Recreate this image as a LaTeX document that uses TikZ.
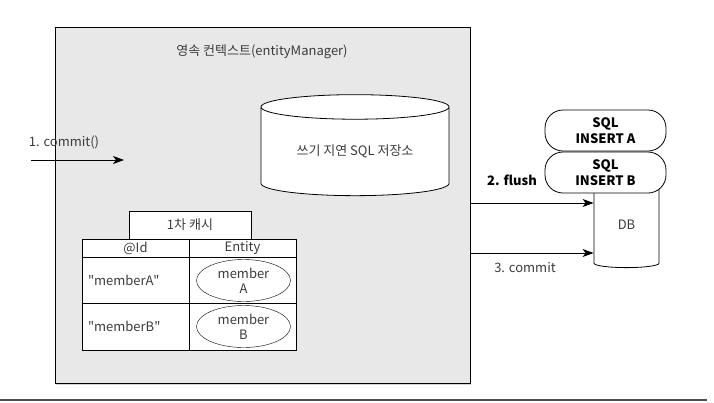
\documentclass[tikz,border=0pt]{standalone}
\usepackage{fontspec}
\setmainfont{Noto Sans CJK KR}
\usetikzlibrary{arrows.meta,shapes.geometric,shadows}
\definecolor{ctxgray}{HTML}{E8E8E8}
\definecolor{txtgray}{HTML}{3C3C3C}

\begin{document}
\begin{tikzpicture}[x=1pt,y=-1pt,
    every node/.style={font=\fontsize{13}{15}\selectfont,text=txtgray},
    cell/.style={draw,fill=white,inner sep=0pt,line width=0.8pt},
    store/.style={cylinder,shape border rotate=90,draw,fill=white,inner sep=0pt,line width=0.8pt},
    sqlbox/.style={draw,fill=white,rounded corners=18pt,minimum width=121pt,minimum height=41pt,
        inner sep=0pt,align=center,font=\fontsize{13}{16}\selectfont\bfseries,text=black,line width=0.8pt},
    flow/.style={-{Stealth[length=11pt,width=8pt,inset=3pt]},line width=0.8pt}]%
    \useasboundingbox (0,0) rectangle (714,402);
    % persistence context
    \node[draw,fill=ctxgray,minimum width=415pt,minimum height=356pt,inner sep=0pt,line width=0.8pt,
        drop shadow={opacity=0.35,shadow xshift=1pt,shadow yshift=-1.5pt}] (ctx) at (262.5,205) {}; %%
    \node (ctxtitle) at (262,52) {영속 컨텍스트(entityManager)}; %%
    \node[store,minimum width=188pt,minimum height=101pt,aspect=0.21] (sqlstore) at (355,151.5) {쓰기 지연 SQL 저장소}; %%
    % first level cache
    \node[cell,minimum width=122pt,minimum height=28pt] (cache) at (190,225) {1차 캐시}; %%
    \node[cell,minimum width=107pt,minimum height=18pt] (idhead) at (135.5,248) {@Id}; %%
    \node[cell,minimum width=107pt,minimum height=18pt] (enthead) at (242.5,248) {Entity}; %%
    \node[cell,minimum width=107pt,minimum height=46pt,text width=95pt,align=left] (ida) at (135.5,280) {\textquotedbl memberA\textquotedbl}; %%
    \node[cell,minimum width=107pt,minimum height=46pt] (enta) at (242.5,280) {}; %%
    \node[cell,minimum width=107pt,minimum height=47pt,text width=95pt,align=left] (idb) at (135.5,326.5) {\textquotedbl memberB\textquotedbl}; %%
    \node[cell,minimum width=107pt,minimum height=47pt] (entb) at (242.5,326.5) {}; %%
    \node[draw,ellipse,fill=white,minimum width=94pt,minimum height=42pt,inner sep=0pt,align=center] (mema) at (243.5,280.5) {member\\A}; %%
    \node[draw,ellipse,fill=white,minimum width=94pt,minimum height=42pt,inner sep=0pt,align=center] (memb) at (243.5,326.5) {member\\B}; %%
    % database side
    \node[store,minimum width=65pt,minimum height=90pt,aspect=0.5] (db) at (626.5,225) {DB}; %%
    \node[sqlbox] (insa) at (605.5,130.5) {SQL\\INSERT A}; %%
    \node[sqlbox] (insb) at (605.5,172.5) {SQL\\INSERT B}; %%
    % arrows
    \coordinate (commitfrom) at (31,160); %%
    \coordinate (committo) at (124,160); %%
    \draw[flow] (commitfrom) -- (committo); %%
    \node (commitlbl) at (64,142) {1. commit()}; %%
    \coordinate (flushfrom) at (ctx.east |- 0,203); %%
    \coordinate (dbcommitfrom) at (ctx.east |- 0,253); %%
    \draw[flow] (flushfrom) -- (db.west |- flushfrom); %%
    \draw[flow] (dbcommitfrom) -- (db.west |- dbcommitfrom); %%
    \node[font=\fontsize{13}{15}\selectfont\bfseries,text=black] (flushlbl) at (512,180) {2. flush}; %%
    \node (dbcommitlbl) at (525,268) {3. commit}; %%
    \coordinate (rulefrom) at (0,400); %%
    \coordinate (ruleto) at (707,400); %%
    \draw[line width=1.5pt,black!70] (rulefrom) -- (ruleto); %%
\end{tikzpicture}
\end{document}
